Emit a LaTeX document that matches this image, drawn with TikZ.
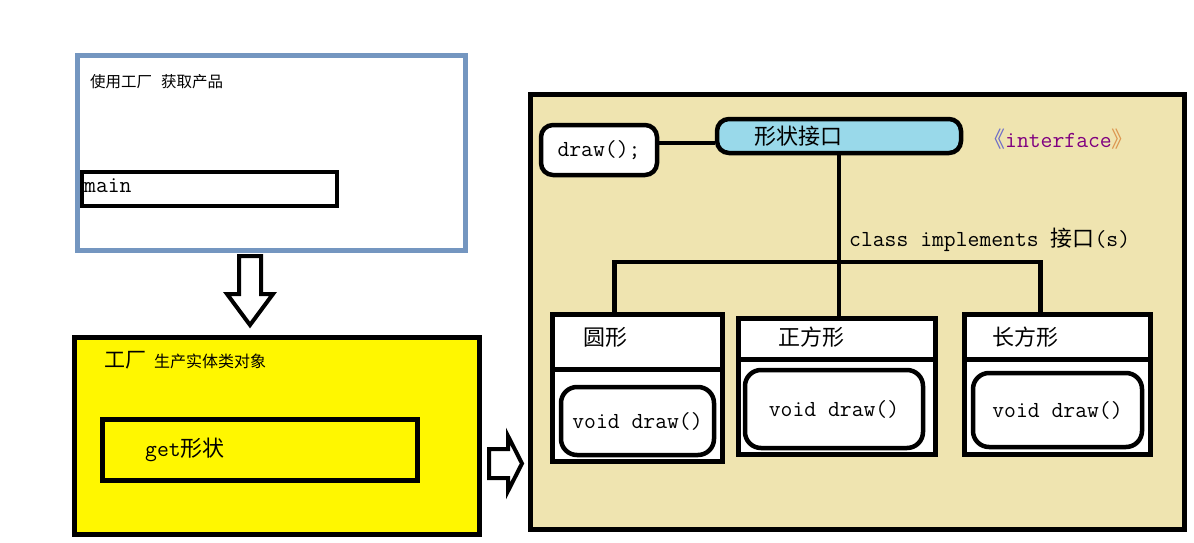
\documentclass[tikz,border=0pt]{standalone}
\usepackage{fontspec}
\newfontfamily\cjk{Noto Sans CJK SC}
\usetikzlibrary{positioning,calc}
\definecolor{userblue}{RGB}{116,150,192}
\definecolor{factoryyellow}{RGB}{255,247,0}
\definecolor{panelbg}{RGB}{239,228,176}
\definecolor{ifaceblue}{RGB}{153,217,234}
\definecolor{ifacepurple}{RGB}{128,0,128}
\definecolor{lbrk}{RGB}{110,110,200}
\definecolor{rbrk}{RGB}{220,150,80}

\begin{document}
\begin{tikzpicture}[x=1pt, y=-1pt,
  frame/.style={draw, line width=5pt, inner sep=0pt},
  head/.style={frame, fill=white, anchor=north},
  method/.style={draw, line width=4.5pt, rounded corners=16pt, fill=white, inner sep=0pt, font=\fontsize{23}{26}\selectfont\ttfamily},
  code/.style={inner sep=0pt, font=\fontsize{23}{26}\selectfont\ttfamily},
  cn/.style={inner sep=0pt, font=\fontsize{22}{26}\selectfont\cjk},
  link/.style={line width=4.5pt},
  hollow/.style={draw, line width=4pt, fill=white, line join=miter}
]
\useasboundingbox (0,0) rectangle (1194,543);

% client side
\node[frame, draw=userblue, fill=white, minimum width=388pt, minimum height=195pt] (user) at (271.5,153) {};
\node[cn, font=\fontsize{15.5}{18}\selectfont\cjk, anchor=west] (userlbl) at (90,82) {使用工厂\hspace{9pt}获取产品};
\node[frame, line width=4pt, minimum width=255pt, minimum height=34pt] (main) at (209.5,189) {};
\node[code, right=4pt of main.west, yshift=3pt] (mainlbl) {main};

\draw[hollow] (239,256) -- (239,294) -- (227,294) -- (250,325) -- (273,294) -- (261,294) -- (261,256) -- cycle;

% factory
\node[frame, fill=factoryyellow, minimum width=405pt, minimum height=197pt] (factory) at (277,436) {};
\node[anchor=base west, inner sep=0pt] (factorylbl) at (104,367) {{\cjk\fontsize{21}{24}\selectfont 工厂}\hspace{8pt}{\cjk\fontsize{16}{18}\selectfont 生产实体类对象}};
\node[frame, minimum width=315pt, minimum height=61pt] (get) at (260,450) {};
\node[code, right=45pt of get.west] (getlbl) {get{\cjk\fontsize{22}{26}\selectfont 形状}};

\draw[hollow] (489,449) -- (508,449) -- (508,436) -- (522,463.5) -- (508,491) -- (508,478) -- (489,478) -- cycle;

% shapes
\node[frame, fill=panelbg, minimum width=654pt, minimum height=435pt] (shapes) at (857.5,312) {};
\node[method, rounded corners=12pt, minimum width=116pt, minimum height=50pt] (sig) at (599,150) {draw();};
\node[frame, line width=4.5pt, rounded corners=12pt, fill=ifaceblue, minimum width=244pt, minimum height=34pt] (iface) at (839,136) {};
\node[cn, right=40pt of iface.west] (ifacelbl) {形状接口};
\node[code, anchor=west] (stereo) at (983,139) {{\cjk\fontsize{22}{26}\selectfont\color{lbrk}《}{\color{ifacepurple}interface}{\cjk\fontsize{22}{26}\selectfont\color{rbrk}》}};
\node[code, anchor=west] (impl) at (849,240) {class implements {\cjk\fontsize{22}{26}\selectfont 接口}(s)};

\node[frame, fill=white, minimum width=170pt, minimum height=147pt] (circle) at (637,388) {};
\node[head, minimum width=170pt, minimum height=55pt] (circlehead) at (circle.north) {};
\node[cn, anchor=west] (circlelbl) at (583,337) {圆形};
\node[method, minimum width=153pt, minimum height=68pt] (circledraw) at (637.5,421) {void draw()};

\node[frame, fill=white, minimum width=197pt, minimum height=136pt] (square) at (837,386.5) {};
\node[head, minimum width=197pt, minimum height=40.5pt] (squarehead) at (square.north) {};
\node[cn, anchor=west] (squarelbl) at (778,337) {正方形};
\node[method, minimum width=178pt, minimum height=78pt] (squaredraw) at (834,409) {void draw()};

\node[frame, fill=white, minimum width=186pt, minimum height=140pt] (rect) at (1057.5,384.5) {};
\node[head, minimum width=186pt, minimum height=45pt] (recthead) at (rect.north) {};
\node[cn, anchor=west] (rectlbl) at (992,337) {长方形};
\node[method, minimum width=169pt, minimum height=74pt] (rectdraw) at (1057.5,410) {void draw()};

% links
\coordinate (sigport) at ($(sig.east)+(0,-7)$);
\draw[link] (sigport) -- (sigport -| iface.west);
\draw[link] (iface.south) -- (iface.south |- square.north);
\coordinate (bus) at (837,262);
\coordinate (circleport) at ($(circle.north west)!0.37!(circle.north east)$);
\coordinate (rectport) at ($(rect.north west)!0.41!(rect.north east)$);
\draw[link] (circleport) |- (bus) -| (rectport);
\end{tikzpicture}
\end{document}
